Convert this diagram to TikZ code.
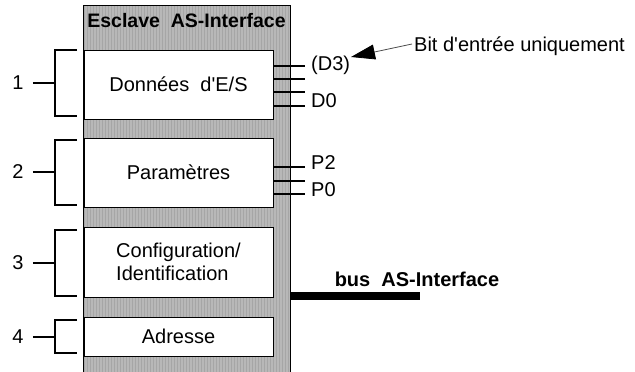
\documentclass[tikz,border=0pt]{standalone}
\usepackage{fontspec}
\setmainfont{Liberation Sans}
\usetikzlibrary{arrows.meta}
\definecolor{hatch}{RGB}{184,184,184}
\begin{document}
\begin{tikzpicture}[x=1pt,y=-1pt,
  txt/.style={inner sep=0pt,font=\fontsize{20}{23}\selectfont},
  btxt/.style={inner sep=0pt,font=\fontsize{19.5}{23}\selectfont\bfseries},
  blk/.style={draw=black,line width=0.8pt,fill=white,minimum width=189pt,inner sep=0pt,font=\fontsize{20}{23}\selectfont},
  brk/.style={line width=1.6pt},
  pin/.style={line width=1.6pt}]
\useasboundingbox (0,0) rectangle (635,372);
% slave housing
\fill[hatch] (83,5) rectangle (290,372);
\foreach \i in {0,...,68} {\draw[gray!70,line width=0.4pt] (84.5+3*\i,5) -- (84.5+3*\i,372);}
\draw[line width=1pt] (83,372) -- (83,5) -- (290,5) -- (290,372);
\node[btxt] (title) at (186.5,21) {Esclave\ \ AS-Interface};
% blocks
\node[blk,minimum height=69pt] (b1) at (178.5,84.5) {Données\ \ d\textquotesingle E/S};
\node[blk,minimum height=69pt] (b2) at (178.5,172.5) {Paramètres};
\node[blk,minimum height=70pt,align=left] (b3) at (178.5,262) {Configuration/\\Identification};
\node[blk,minimum height=39pt] (b4) at (178.5,336.5) {Adresse};
% brackets
\foreach \n/\t/\b/\m in {1/50/116/83, 2/140/205/172, 3/230/296/263, 4/320/353/337} {
  \coordinate (t\n) at (77,\t);
  \coordinate (u\n) at (55,\t);
  \coordinate (v\n) at (55,\b);
  \coordinate (w\n) at (77,\b);
  \coordinate (m\n) at (55,\m);
  \node[txt] (n\n) at (18,\m) {\n};
  \draw[brk] (t\n) -- (u\n) -- (v\n) -- (w\n);
  \draw[brk] (n\n.east) ++(9,0) -- (m\n);
}
% data pins
\foreach \k/\y in {a/66, b/79, c/92, d/106} {
  \coordinate (ds\k) at (b1.east |- 0,\y);
  \coordinate (de\k) at (305,\y);
  \draw[pin] (ds\k) -- (de\k);
}
\node[txt,anchor=west] (d3) at (311,65) {(D3)};
\node[txt,anchor=west] (d0) at (311,100.5) {D0};
% parameter pins
\foreach \k/\y in {a/167, b/181, c/194} {
  \coordinate (ps\k) at (b2.east |- 0,\y);
  \coordinate (pe\k) at (305,\y);
  \draw[pin] (ps\k) -- (pe\k);
}
\node[txt,anchor=west] (p2) at (311,163) {P2};
\node[txt,anchor=west] (p0) at (311,189.5) {P0};
% annotation
\node[txt,anchor=west] (note) at (414,46) {Bit d\textquotesingle entrée uniquement};
\coordinate (tip) at (351,57);
\coordinate (ns) at (412,44);
\draw[gray!60!black,line width=0.8pt,-{Triangle[length=24pt,width=15pt,color=black,fill=black]}] (ns) -- (tip);
% bus
\coordinate (bs) at (290,296);
\coordinate (be) at (420,296);
\draw[line width=8pt] (bs) -- (be);
\node[btxt,font=\fontsize{20}{23}\selectfont\bfseries] (bus) at (417,279) {bus\ \ AS-Interface};
\end{tikzpicture}
\end{document}
